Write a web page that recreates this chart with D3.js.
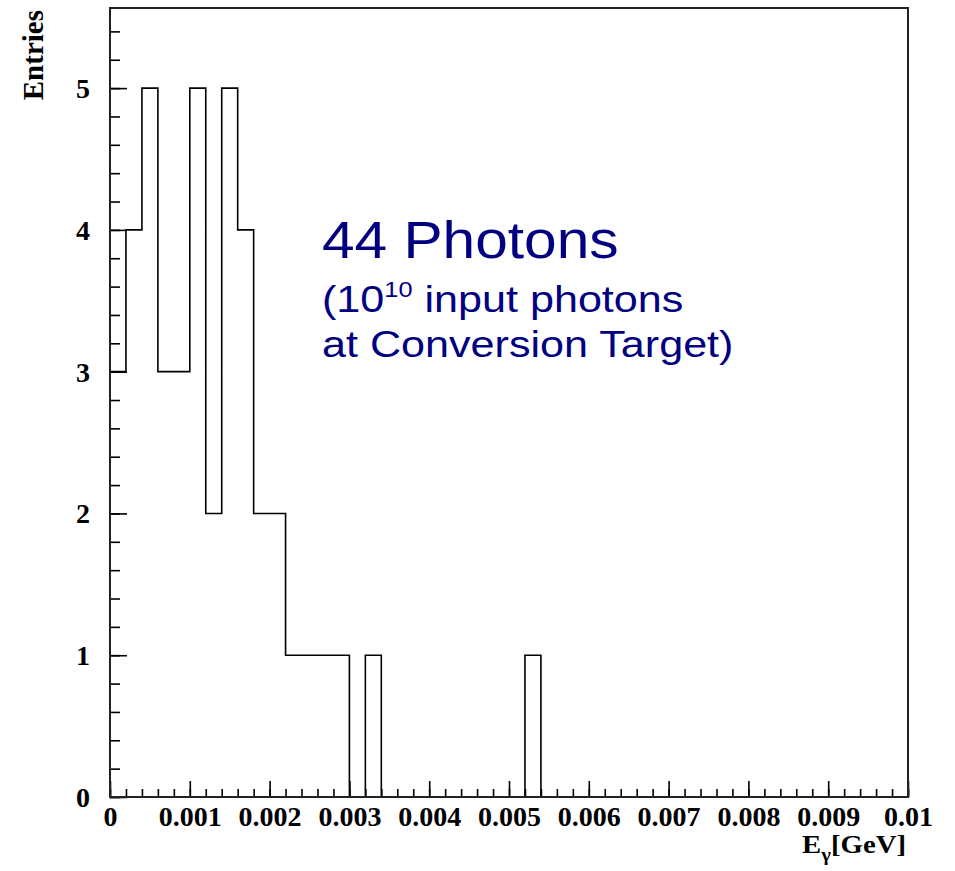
<!DOCTYPE html>
<html>
<head>
<meta charset="utf-8">
<script src="https://cdn.jsdelivr.net/npm/d3@7"></script>
<style>
  body { margin: 0; background: #fff; }
</style>
</head>
<body>
<div id="chart"></div>
<script>
// histogram: 50 bins of 0.0002 GeV from 0 to 0.01
const binEdgesLo = d3.range(0, 50).map(i => +(i * 0.0002).toFixed(4));
const binWidth = 0.0002;
const counts = [3, 4, 5, 3, 3, 5, 2, 5, 4, 2,
                2, 1, 1, 1, 1, 0, 1, 0, 0, 0,
                0, 0, 0, 0, 0, 0, 1, 0, 0, 0,
                0, 0, 0, 0, 0, 0, 0, 0, 0, 0,
                0, 0, 0, 0, 0, 0, 0, 0, 0, 0];
const xTicks = [0, 0.001, 0.002, 0.003, 0.004, 0.005, 0.006, 0.007, 0.008, 0.009, 0.01];
const xTickLabels = ["0", "0.001", "0.002", "0.003", "0.004", "0.005", "0.006", "0.007", "0.008", "0.009", "0.01"];
const yTicks = [0, 1, 2, 3, 4, 5];

const W = 955, H = 871;
const margin = { top: 8, right: 47, bottom: 74, left: 110 };
const width = W - margin.left - margin.right;
const height = H - margin.top - margin.bottom;

const svg = d3.select('#chart')
    .append('svg')
    .attr('width', W)
    .attr('height', H);

const g = svg.append('g')
    .attr('transform', `translate(${margin.left}, ${margin.top})`);

const x = d3.scaleLinear().domain([0, 0.01]).range([0, width]);
const y = d3.scaleLinear().domain([0, 5.565]).range([height, 0]);

const serif = '"Liberation Serif", "Times New Roman", serif';

// minor ticks
g.append('g')
    .attr('transform', `translate(0, ${height})`)
    .call(d3.axisBottom(x).tickValues(d3.range(0, 51).map(i => i * 0.0002)).tickSize(-8).tickFormat(''))
    .call(a => a.select('.domain').remove());
g.append('g')
    .call(d3.axisLeft(y).tickValues(d3.range(0, 28).map(i => i * 0.2)).tickSize(-10).tickFormat(''))
    .call(a => a.select('.domain').remove());

// major ticks + labels
const xAxis = g.append('g')
    .attr('transform', `translate(0, ${height})`)
    .call(d3.axisBottom(x).tickValues(xTicks).tickSize(-16).tickPadding(0)
        .tickFormat((d, i) => xTickLabels[i]));
xAxis.select('.domain').remove();
xAxis.selectAll('text')
    .attr('y', 29)
    .attr('dy', 0)
    .style('font-family', serif)
    .style('font-weight', 'bold')
    .style('font-size', '28px')
    .style('fill', '#000');

const yAxis = g.append('g')
    .call(d3.axisLeft(y).tickValues(yTicks).tickSize(-17).tickFormat(d3.format('d')));
yAxis.select('.domain').remove();
yAxis.selectAll('text')
    .attr('x', -20)
    .attr('dy', '0.34em')
    .style('font-family', serif)
    .style('font-weight', 'bold')
    .style('font-size', '28px')
    .style('fill', '#000');

g.selectAll('.tick line')
    .attr('stroke', '#000')
    .attr('stroke-width', 1.6);

// histogram outline
const pts = [[0, 0]];
counts.forEach((c, i) => {
    pts.push([binEdgesLo[i], c]);
    pts.push([binEdgesLo[i] + binWidth, c]);
});
pts.push([0.01, 0]);

g.append('path')
    .datum(pts)
    .attr('fill', 'none')
    .attr('stroke', '#000')
    .attr('stroke-width', 1.6)
    .attr('d', d3.line().x(d => x(d[0])).y(d => y(d[1])));

// frame
g.append('rect')
    .attr('x', 0).attr('y', 0)
    .attr('width', width).attr('height', height)
    .attr('fill', 'none')
    .attr('stroke', '#222')
    .attr('stroke-width', 2);

// axis titles
svg.append('text')
    .attr('transform', 'translate(43, 10) rotate(-90)')
    .attr('text-anchor', 'end')
    .style('font-family', serif)
    .style('font-weight', 'bold')
    .style('font-size', '29px')
    .text('Entries');

const xt = svg.append('text')
    .attr('transform', 'translate(906, 853) scale(1.15, 1)')
    .attr('text-anchor', 'end')
    .style('font-family', serif)
    .style('font-weight', 'bold')
    .style('font-size', '25px');
xt.append('tspan').text('E');
xt.append('tspan').attr('dy', 8).style('font-size', '18px').text('γ');
xt.append('tspan').attr('dy', -8).text('[GeV]');

// annotation
const navy = '#000080';
const note = svg.append('g')
    .attr('transform', 'translate(322, 0) scale(1.15, 1)')
    .style('font-family', '"Liberation Sans", Arial, sans-serif')
    .style('fill', navy);
note.append('text').attr('y', 258).style('font-size', '51px').text('44 Photons');
const l2 = note.append('text').attr('y', 312).style('font-size', '37.5px');
l2.append('tspan').text('(10');
l2.append('tspan').attr('dy', -15).style('font-size', '22px').text('10');
l2.append('tspan').attr('dy', 15).text(' input photons');
note.append('text').attr('y', 357).style('font-size', '37.5px').text('at Conversion Target)');
</script>
</body>
</html>
